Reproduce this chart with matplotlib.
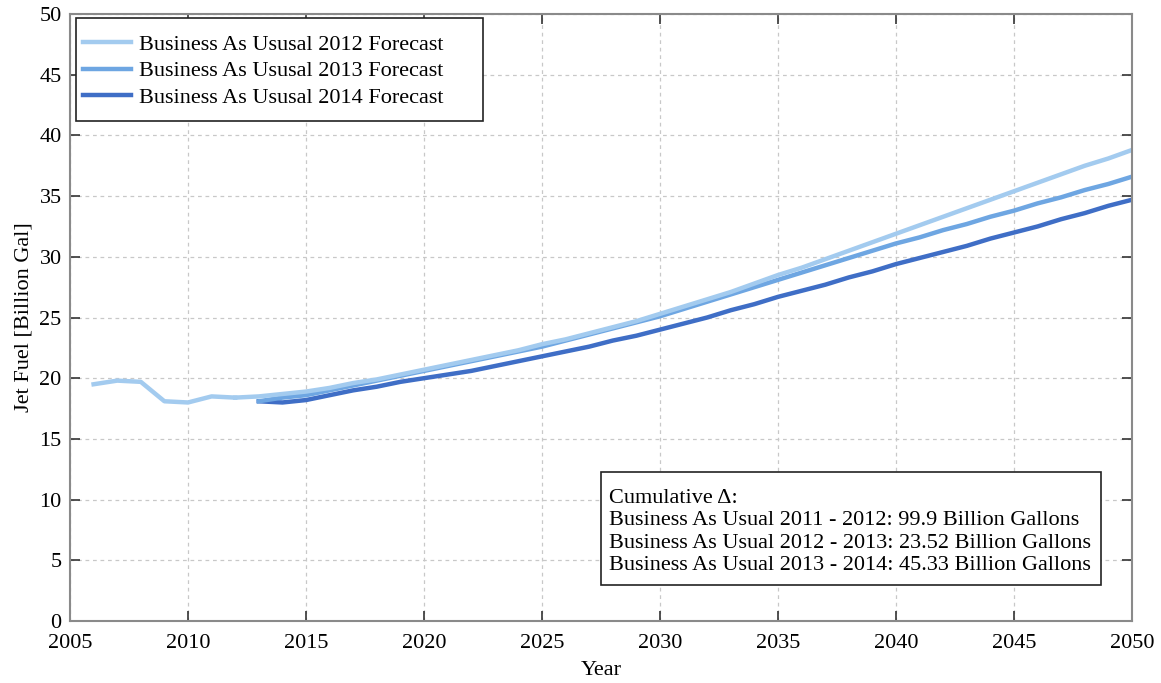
import matplotlib
matplotlib.use("Agg")
import matplotlib.pyplot as plt
from matplotlib.patches import Rectangle

plt.rcParams['font.family'] = ['Liberation Serif', 'DejaVu Serif']

hist_years = [2006, 2007, 2008, 2009, 2010, 2011, 2012]
hist_vals = [19.5, 19.8, 19.7, 18.1, 18.0, 18.5, 18.4]

f12_years = list(range(2012, 2051))
f12_vals = [18.4, 18.5, 18.7, 18.9, 19.2, 19.6, 19.9, 20.3, 20.7, 21.1, 21.5, 21.9,
            22.3, 22.8, 23.2, 23.7, 24.2, 24.7, 25.3, 25.9, 26.5, 27.1, 27.8, 28.5,
            29.1, 29.8, 30.5, 31.2, 31.9, 32.6, 33.3, 34.0, 34.7, 35.4, 36.1, 36.8,
            37.5, 38.1, 38.8]

f13_years = list(range(2013, 2051))
f13_vals = [18.1, 18.4, 18.6, 19.0, 19.4, 19.8, 20.2, 20.6, 21.0, 21.4, 21.8, 22.2,
            22.6, 23.1, 23.6, 24.1, 24.6, 25.1, 25.7, 26.3, 26.9, 27.5, 28.1, 28.7,
            29.3, 29.9, 30.5, 31.1, 31.6, 32.2, 32.7, 33.3, 33.8, 34.4, 34.9, 35.5,
            36.0, 36.6]

f14_years = list(range(2013, 2051))
f14_vals = [18.1, 18.0, 18.2, 18.6, 19.0, 19.3, 19.7, 20.0, 20.3, 20.6, 21.0, 21.4,
            21.8, 22.2, 22.6, 23.1, 23.5, 24.0, 24.5, 25.0, 25.6, 26.1, 26.7, 27.2,
            27.7, 28.3, 28.8, 29.4, 29.9, 30.4, 30.9, 31.5, 32.0, 32.5, 33.1, 33.6,
            34.2, 34.7]

labels = ["Business As Ususal 2012 Forecast",
          "Business As Ususal 2013 Forecast",
          "Business As Ususal 2014 Forecast"]
colors = ["#a3cbef", "#6ea6e2", "#3f6ec6"]

box_text = ("Cumulative \u0394:\n"
            "Business As Usual 2011 - 2012: 99.9 Billion Gallons\n"
            "Business As Usual 2012 - 2013: 23.52 Billion Gallons\n"
            "Business As Usual 2013 - 2014: 45.33 Billion Gallons")

W, H = 1161, 683
fig = plt.figure(figsize=(W / 100, H / 100), dpi=100)
x0, x1, y0, y1 = 70, 1132, 14, 621
ax = fig.add_axes([x0 / W, 1 - y1 / H, (x1 - x0) / W, (y1 - y0) / H])


def axpt(px, py):
    return (px - x0) / (x1 - x0), 1 - (py - y0) / (y1 - y0)


lw = 3.2
ax.plot(hist_years, hist_vals, color=colors[0], lw=lw)
ax.plot(f14_years, f14_vals, color=colors[2], lw=lw, label=labels[2])
ax.plot(f13_years, f13_vals, color=colors[1], lw=lw, label=labels[1])
ax.plot(f12_years, f12_vals, color=colors[0], lw=lw, label=labels[0])

ax.set_xlim(2005, 2050)
ax.set_ylim(0, 50)
ax.set_xticks(range(2005, 2051, 5))
ax.set_yticks(range(0, 51, 5))
ax.grid(True, color='#c8c8c8', linestyle=(0, (3, 3)), linewidth=0.9)
ax.tick_params(direction='in', length=7, top=True, right=True, labelsize=16,
               width=1.2, color='#333333')
ax.tick_params(axis='x', pad=9)
ax.tick_params(axis='y', pad=6)
for s in ax.spines.values():
    s.set_color('#8a8a8a')
    s.set_linewidth(1.5)

ax.set_xlabel("Year", fontsize=16, labelpad=6)
ax.set_ylabel("Jet Fuel [Billion Gal]", fontsize=16, labelpad=4)

# legend frame
lx0, ly0 = axpt(76, 121)
lx1, ly1 = axpt(483, 18)
ax.add_patch(Rectangle((lx0, ly0), lx1 - lx0, ly1 - ly0, transform=ax.transAxes,
                       facecolor='white', edgecolor='#222222', lw=1.2, zorder=5))

handles, labs = ax.get_legend_handles_labels()
order = [2, 1, 0]
leg = ax.legend([handles[i] for i in order], [labs[i] for i in order],
                loc='center left', bbox_to_anchor=axpt(83, 71),
                borderaxespad=0, borderpad=0, fontsize=16, frameon=False,
                handlelength=2.15, handletextpad=0.38, labelspacing=0.27)
leg.set_zorder(6)

# annotation box
bx0, by0 = axpt(601, 585)
bx1, by1 = axpt(1101, 472)
ax.add_patch(Rectangle((bx0, by0), bx1 - bx0, by1 - by0, transform=ax.transAxes,
                       facecolor='white', edgecolor='#222222', lw=1.2, zorder=5))
tx, ty = axpt(609, 532)
ax.text(tx, ty, box_text, transform=ax.transAxes, fontsize=16,
        va='center', ha='left', linespacing=1.22, zorder=6)

fig.savefig("out.png", dpi=100)
